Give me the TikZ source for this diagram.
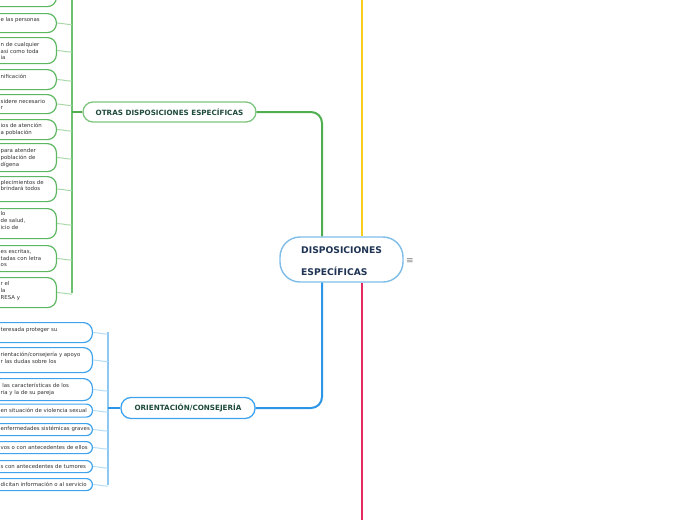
\documentclass[tikz,border=0pt]{standalone}
\usepackage{fontspec}
\setmainfont{DejaVu Sans}
\usetikzlibrary{calc}
\definecolor{gbord}{HTML}{5DB760}
\definecolor{gtrunk}{HTML}{4FAE4F}
\definecolor{gvert}{HTML}{6CC070}
\definecolor{gconnc}{HTML}{A9D9A9}
\definecolor{obord}{HTML}{7CC57C}
\definecolor{otext}{HTML}{1F4B3C}
\definecolor{bbord}{HTML}{3EA3EC}
\definecolor{btrunk}{HTML}{2C95E6}
\definecolor{bvert}{HTML}{8CC8F2}
\definecolor{bconnc}{HTML}{B5DCF6}
\definecolor{cbord}{HTML}{7DBDE8}
\definecolor{ctext}{HTML}{1F3354}
\definecolor{yel}{HTML}{F9CD1B}
\definecolor{pink}{HTML}{E5285F}
\definecolor{txtc}{HTML}{333333}
\tikzset{
  gbox/.style={draw=gbord, line width=1.2pt, fill=white, rounded corners=9pt, inner sep=0pt, anchor=north east, minimum width=160pt},
  bbox/.style={draw=bbord, line width=1.2pt, fill=white, rounded corners=6pt, inner sep=0pt, anchor=north east, minimum width=200pt},
  btall/.style={bbox, rounded corners=9pt},
  ctxtstyle/.style={font=\fontsize{5.4}{6.8}\selectfont, text=txtc, align=left, anchor=west, inner sep=0pt},
  gconn/.style={draw=gconnc, line width=1pt},
  bconn/.style={draw=bconnc, line width=1pt},
  topicbox/.style={fill=white, line width=1.3pt, rounded corners=10pt, inner sep=0pt, font=\fontsize{7.2}{8}\selectfont\bfseries},
}
\begin{document}
\begin{tikzpicture}[x=1pt,y=-1pt]
\useasboundingbox (0,0) rectangle (697,520);
\clip (0,0) rectangle (697,520);

% coordinates of trunks
\coordinate (gtop) at (72,0);
\coordinate (btop) at (108,332);
\coordinate (ttrunk) at (322,0);
\coordinate (ytop) at (362,0);
\coordinate (ybot) at (362,520);

% central node
\node[draw=cbord, fill=white, line width=1.4pt, rounded corners=20pt, minimum width=123pt, minimum height=45pt, inner sep=0pt] (c) at (341.5,259.5) {};
\node[font=\fontsize{9.2}{22}\selectfont\bfseries, text=ctext, align=left, anchor=west, inner sep=0pt] (ctxt) at (301,261) {DISPOSICIONES\\ESPECÍFICAS};
\node[font=\fontsize{9}{10}\selectfont, text=gray, inner sep=0pt] (menu) at (410,261) {≡};

% yellow and pink
\draw[yel, line width=2.4pt] (c.north -| ytop) -- (ytop);
\draw[pink, line width=2.4pt] (c.south -| ybot) -- (ybot);

% main topics
\node[topicbox, draw=obord, text=otext, minimum width=173pt, minimum height=20pt] (otras) at (169.5,112) {OTRAS DISPOSICIONES ESPECÍFICAS};
\node[topicbox, draw=bbord, text=otext, minimum width=134pt, minimum height=21pt] (orient) at (188,408) {ORIENTACIÓN/CONSEJERÍA};

\draw[gtrunk, line width=2pt, rounded corners=11pt] (otras.east) -| (c.north -| ttrunk);
\draw[btrunk, line width=2pt, rounded corners=11pt] (orient.east) -| (c.south -| ttrunk);

% green children
\node[gbox, minimum height=31pt] (g1) at (57,-25) {};
\node[gbox, minimum height=19pt] (g2) at (57,13) {};
\node[gbox, minimum height=26pt] (g3) at (57,37) {};
\node[gbox, minimum height=20pt] (g4) at (57,69) {};
\node[gbox, minimum height=19pt] (g5) at (57,94) {};
\node[gbox, minimum height=20pt] (g6) at (57,119) {};
\node[gbox, minimum height=28pt] (g7) at (57,143) {};
\node[gbox, minimum height=25pt] (g8) at (57,176) {};
\node[gbox, minimum height=30pt] (g9) at (57,208) {};
\node[gbox, minimum height=26pt] (g10) at (57,245) {};
\node[gbox, minimum height=30pt] (g11) at (57,277) {};

\node[ctxtstyle] (tg2) at (0.5,20) {e las personas};
\node[ctxtstyle] (tg3) at (0.5,51) {n de cualquier\\asi como toda\\ia};
\node[ctxtstyle] (tg4) at (0.5,76) {nificación};
\node[ctxtstyle] (tg5) at (0.5,104.5) {sidere necesario\\r};
\node[ctxtstyle] (tg6) at (0.5,129.5) {ios de atención\\a población};
\node[ctxtstyle] (tg7) at (0.5,158) {para atender\\población de\\dígena};
\node[ctxtstyle] (tg8) at (0.5,185.5) {plecimientos de\\brindará todos};
\node[ctxtstyle] (tg9) at (0.5,220.5) {lo\\de salud,\\icio de};
\node[ctxtstyle] (tg10) at (0.5,258) {es escritas,\\tadas con letra\\os};
\node[ctxtstyle] (tg11) at (0.5,291) {r el\\la\\RESA y};

\coordinate (gbot) at (72,293);
\draw[gvert, line width=1.2pt] (gtop) -- (gbot);
\draw[gtrunk, line width=1.2pt] (otras.west) -- (otras.west -| gtop);
\foreach \n in {g1,g2,g3,g4,g5,g6,g7,g8,g9,g10,g11}{
  \draw[gconn] (\n.east) to[out=0,in=180] ($(\n.east -| gtop)+(0,1.5)$);
}

% blue children
\node[btall, minimum height=20pt] (b1) at (93,322) {};
\node[btall, minimum height=25pt] (b2) at (93,347) {};
\node[btall, minimum height=22pt] (b3) at (93,378) {};
\node[bbox, minimum height=13pt] (b4) at (93,403.5) {};
\node[bbox, minimum height=12pt] (b5) at (93,423) {};
\node[bbox, minimum height=12pt] (b6) at (93,441) {};
\node[bbox, minimum height=12pt] (b7) at (93,460) {};
\node[bbox, minimum height=12pt] (b8) at (93,478) {};

\node[ctxtstyle] (tb1) at (0.5,330) {teresada proteger su};
\node[ctxtstyle] (tb2) at (0.5,358) {rientación/consejería y apoyo\\r las dudas sobre los};
\node[ctxtstyle] (tb3) at (0.5,389) {\ las características de los\\ria y la de su pareja};
\node[ctxtstyle] (tb4) at (0.5,410) {en situación de violencia sexual};
\node[ctxtstyle] (tb5) at (0.5,429) {enfermedades sistémicas graves};
\node[ctxtstyle] (tb6) at (0.5,447) {vos o con antecedentes de ellos};
\node[ctxtstyle] (tb7) at (0.5,466) {s con antecedentes de tumores};
\node[ctxtstyle] (tb8) at (0.5,484) {dicitan información o al servicio};

\coordinate (bbot) at (108,485);
\draw[bvert, line width=1.2pt] (btop) -- (bbot);
\draw[btrunk, line width=1.2pt] (orient.west) -- (orient.west -| btop);
\foreach \n in {b1,b2,b3,b4,b5,b6,b7,b8}{
  \draw[bconn] (\n.east) to[out=0,in=180] ($(\n.east -| btop)+(0,1.5)$);
}
\end{tikzpicture}
\end{document}
